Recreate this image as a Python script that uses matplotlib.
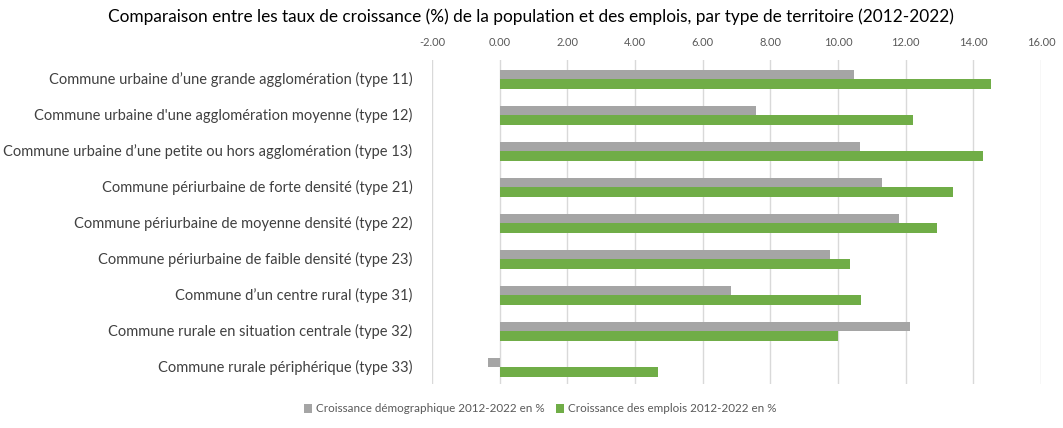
import matplotlib
matplotlib.use("Agg")
import matplotlib.pyplot as plt
import numpy as np

categories = [
    "Commune urbaine d\u2019une grande agglomération (type 11)",
    "Commune urbaine d'une agglomération moyenne (type 12)",
    "Commune urbaine d\u2019une petite ou hors agglomération (type 13)",
    "Commune périurbaine de forte densité (type 21)",
    "Commune périurbaine de moyenne densité (type 22)",
    "Commune périurbaine de faible densité (type 23)",
    "Commune d\u2019un centre rural (type 31)",
    "Commune rurale en situation centrale (type 32)",
    "Commune rurale périphérique (type 33)",
]
pop_growth = [10.46, 7.59, 10.64, 11.29, 11.80, 9.75, 6.84, 12.13, -0.34]
emp_growth = [14.52, 12.21, 14.29, 13.40, 12.92, 10.35, 10.67, 9.99, 4.68]
series_names = ["Croissance démographique 2012-2022 en %",
                "Croissance des emplois 2012-2022 en %"]
x_ticks = [-2, 0, 2, 4, 6, 8, 10, 12, 14, 16]
title = "Comparaison entre les taux de croissance (%) de la population et des emplois, par type de territoire (2012-2022)"

plt.rcParams['font.family'] = ['Lato', 'DejaVu Sans']

fig = plt.figure(figsize=(10.63, 4.28), dpi=100)
ax = fig.add_axes([432/1063, 1-384/428, (1041-432)/1063, (384-60)/428])

y = np.arange(len(categories))
h = 0.265
ax.barh(y - h/2 + 0.04, pop_growth, height=h, color="#A5A5A5", label=series_names[0], zorder=3)
ax.barh(y + h/2 + 0.04, emp_growth, height=h, color="#70AD47", label=series_names[1], zorder=3)

ax.set_ylim(len(categories) - 0.5, -0.5)
ax.set_xlim(-2, 16)
ax.set_xticks(x_ticks)
ax.set_xticklabels([f"{v:.2f}" for v in x_ticks])
ax.xaxis.tick_top()
ax.tick_params(axis='x', length=0, pad=9, labelsize=8, labelcolor="#595959")
ax.set_yticks(y)
ax.set_yticklabels(categories)
ax.tick_params(axis='y', length=0, pad=14, labelsize=10.5, labelcolor="#404040")
ax.grid(axis='x', color="#D9D9D9", linewidth=1, zorder=0)
for s in ax.spines.values():
    s.set_visible(False)

fig.text(531/1063, 1-17/428, title, ha='center', va='center', fontsize=12.4, color="#000000")

fig.legend(loc='center', bbox_to_anchor=(540/1063, 1-409/428), ncol=2, frameon=False,
           fontsize=8.4, handlelength=0.7, handleheight=0.7, handletextpad=0.3,
           columnspacing=1.0, labelcolor="#595959")

fig.savefig("out.png", dpi=100)
